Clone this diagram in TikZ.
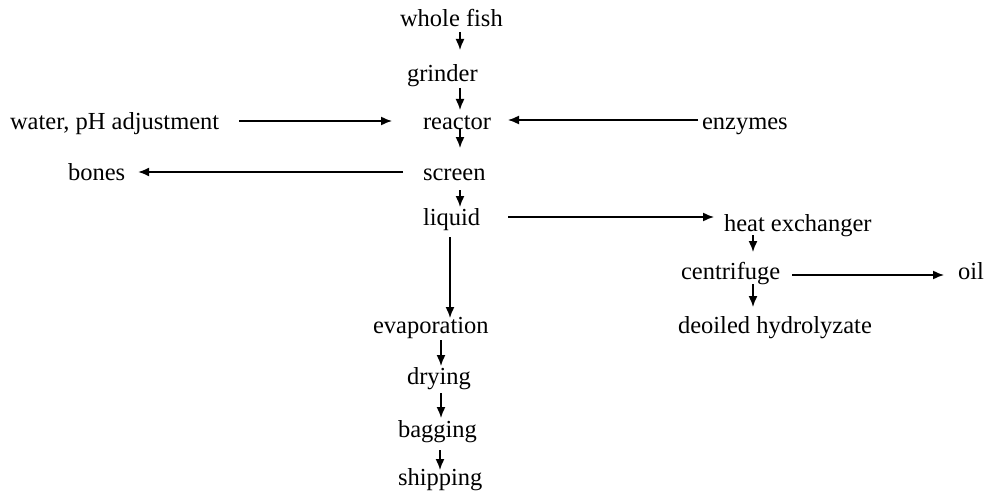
\documentclass[tikz,border=0pt]{standalone}
\usepackage{fontspec}
\setmainfont{Liberation Serif}
\usetikzlibrary{calc,arrows.meta}
\begin{document}
\begin{tikzpicture}[x=1pt,y=-1pt,
  lbl/.style={anchor=base west,inner sep=0pt,outer sep=0pt,font=\fontsize{24.5}{29}\selectfont},
  arr/.style={line width=1.5pt,-{Latex[length=11pt,width=9pt]}}]
\useasboundingbox[fill=white] (0,0) rectangle (984,492);
% column guides
\coordinate (cA) at (460,0);
\coordinate (cB) at (450,0);
\coordinate (cC) at (441,0);
\coordinate (cE) at (440,0);
\coordinate (cD) at (753,0);
% nodes
\node[lbl] (wf) at (400,27) {whole fish};
\node[lbl] (gr) at (407,82) {grinder};
\node[lbl] (re) at (423,129) {reactor};
\node[lbl] (wa) at (10,129) {water, pH adjustment};
\node[lbl] (en) at (702,129) {enzymes};
\node[lbl] (sc) at (423,180) {screen};
\node[lbl] (bo) at (68,180) {bones};
\node[lbl] (li) at (423,225) {liquid};
\node[lbl] (he) at (724,231) {heat exchanger};
\node[lbl] (ce) at (681,279) {centrifuge};
\node[lbl] (oi) at (958,279) {oil};
\node[lbl] (de) at (678,333) {deoiled hydrolyzate};
\node[lbl] (ev) at (373,333) {evaporation};
\node[lbl] (dr) at (407,384) {drying};
\node[lbl] (ba) at (398,437) {bagging};
\node[lbl] (sh) at (398,485) {shipping};
% vertical connectors
\draw[arr] ($(wf.base -| cA)+(0,5)$) -- ($(gr.base -| cA)+(0,-32)$);
\draw[arr] ($(gr.base -| cA)+(0,6)$) -- ($(re.base -| cA)+(0,-19)$);
\draw[arr] ($(re.base -| cA)+(0,-1)$) -- ($(sc.base -| cA)+(0,-32)$);
\draw[arr] ($(sc.base -| cA)+(0,10)$) -- ($(li.base -| cA)+(0,-18)$);
\draw[arr] ($(li.base -| cB)+(0,12)$) -- ($(ev.base -| cB)+(0,-15)$);
\draw[arr] ($(ev.base -| cC)+(0,7)$) -- ($(dr.base -| cC)+(0,-18)$);
\draw[arr] ($(dr.base -| cC)+(0,9)$) -- ($(ba.base -| cC)+(0,-19)$);
\draw[arr] ($(ba.base -| cE)+(0,13)$) -- ($(sh.base -| cE)+(0,-15)$);
\draw[arr] ($(he.base -| cD)+(0,4)$) -- ($(ce.base -| cD)+(0,-27)$);
\draw[arr] ($(ce.base -| cD)+(0,5)$) -- ($(de.base -| cD)+(0,-26)$);
% horizontal connectors
\draw[arr] ($(wa.base east)+(20,-8)$) -- ($(re.base west)+(-31,-8)$);
\draw[arr] ($(en.base west)+(-4,-9)$) -- ($(re.base east)+(17,-9)$);
\draw[arr] ($(sc.base west)+(-20,-8)$) -- ($(bo.base east)+(13,-8)$);
\coordinate (l1) at ($(li.base east)+(28,-8)$);
\coordinate (l2) at ($(he.base west)+(-10,0)$);
\draw[arr] (l1) -- (l1 -| l2);
\draw[arr] ($(ce.base east)+(12,-4)$) -- ($(oi.base west)+(-14,-4)$);
\end{tikzpicture}
\end{document}
